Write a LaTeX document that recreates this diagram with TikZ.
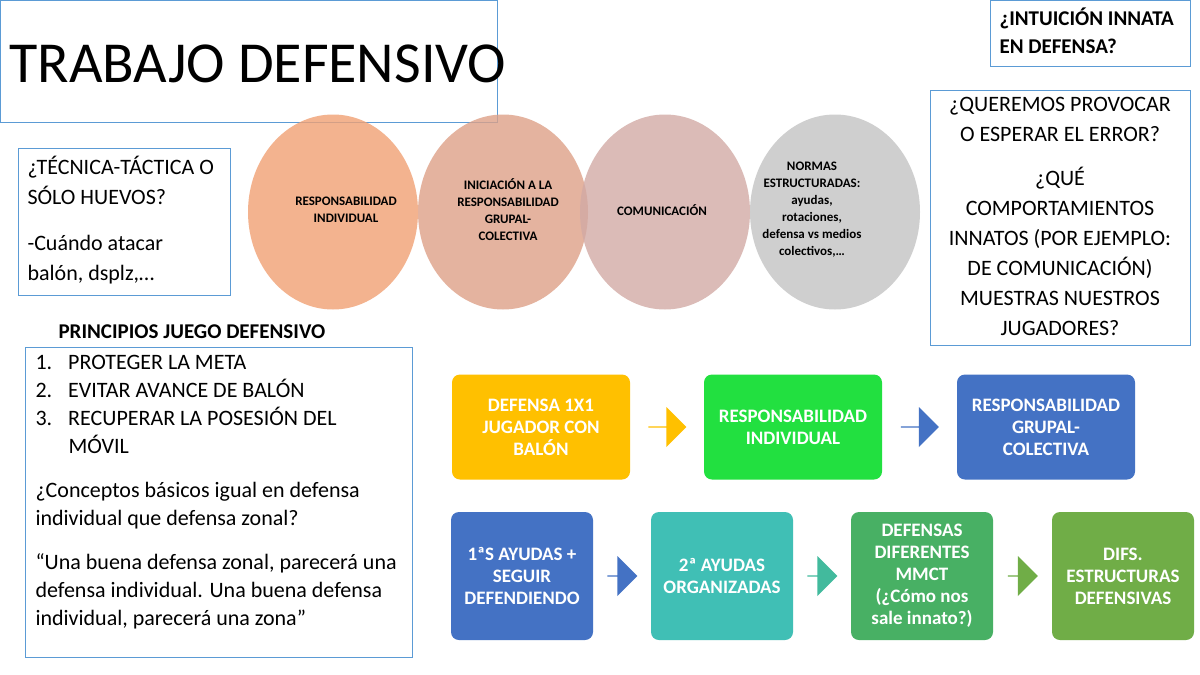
\documentclass[tikz,border=0pt]{standalone}
\usepackage{fontspec}
\setmainfont{Carlito}
\usetikzlibrary{shapes.arrows,shapes.geometric,calc}
\definecolor{bl}{RGB}{68,114,196}
\definecolor{ln}{RGB}{91,155,213}
\definecolor{yel}{RGB}{255,192,0}
\definecolor{grn}{RGB}{34,224,64}
\definecolor{teal}{RGB}{64,191,181}
\definecolor{gr2}{RGB}{72,176,100}
\definecolor{gr3}{RGB}{112,173,71}
\definecolor{c1}{RGB}{241,160,115}
\definecolor{c2}{RGB}{222,160,135}
\definecolor{c3}{RGB}{210,170,165}
\definecolor{c4}{RGB}{195,195,195}
\tikzset{
 circ/.style={ellipse,minimum width=170pt,minimum height=195pt,fill opacity=0.8,text opacity=1,inner sep=0pt},
 sq/.style={rounded corners=8pt,text=white,font=\bfseries\fontsize{19}{22}\selectfont,align=center,inner sep=0pt},
 arr/.style={single arrow,minimum width=40pt,single arrow head extend=7pt,inner sep=0pt,shape border rotate=0},
 ctext/.style={font=\bfseries\fontsize{13}{17}\selectfont,align=center}
}
\begin{document}
\begin{tikzpicture}[x=1pt,y=-1pt]
\useasboundingbox[fill=white] (0,0) rectangle (1200,675);
\draw[ln,line width=0.6pt] (0,0) rectangle (497,122);
\node[anchor=west,font=\fontsize{58}{64}\selectfont] (title) at (6,64) {TRABAJO DEFENSIVO};
\draw[ln,line width=0.6pt] (18,148) rectangle (230,295);
\node[anchor=north west,align=left,font=\fontsize{22}{30}\selectfont] (tec) at (24,153) {¿TÉCNICA-TÁCTICA O\\SÓLO HUEVOS?\\[16pt]-Cuándo atacar\\balón, dsplz,…};
\draw[ln,line width=0.6pt] (990,0) rectangle (1190,66);
\node[anchor=north west,align=left,font=\bfseries\fontsize{21}{28}\selectfont] (intu) at (996,4) {¿INTUICIÓN INNATA\\EN DEFENSA?};
\draw[ln,line width=0.6pt] (930,90) rectangle (1190,345);
\node[anchor=north,align=center,font=\fontsize{22}{30}\selectfont] (q) at (1060,94) {¿QUEREMOS PROVOCAR\\O ESPERAR EL ERROR?\\[14pt]¿QUÉ\\COMPORTAMIENTOS\\INNATOS (POR EJEMPLO:\\DE COMUNICACIÓN)\\MUESTRAS NUESTROS\\JUGADORES?};
\node[anchor=west,font=\bfseries\fontsize{21}{24}\selectfont] (pr) at (55,332) {PRINCIPIOS JUEGO DEFENSIVO};
\draw[ln,line width=0.6pt] (25,347) rectangle (412,657);
\node[anchor=north west,align=left,font=\fontsize{22}{28}\selectfont] (lst) at (32,352) {%
1.\hspace{16pt}PROTEGER LA META\\
2.\hspace{16pt}EVITAR AVANCE DE BALÓN\\
3.\hspace{16pt}RECUPERAR LA POSESIÓN DEL\\
\hspace{33pt}MÓVIL\\[16pt]
¿Conceptos básicos igual en defensa\\individual que defensa zonal?\\[16pt]
“Una buena defensa zonal, parecerá una\\defensa individual. Una buena defensa\\individual, parecerá una zona”};
\node[circ,fill=c1] (e1) at (333,212) {};
\node[circ,fill=c2] (e2) at (503,212) {};
\node[circ,fill=c3] (e3) at (665,212) {};
\node[circ,fill=c4] (e4) at (835,212) {};
\node[ctext] (t1) at (346,210) {RESPONSABILIDAD\\INDIVIDUAL};
\node[ctext] (t2) at (508,210) {INICIACIÓN A LA\\RESPONSABILIDAD\\GRUPAL-\\COLECTIVA};
\node[ctext] (t3) at (662,210) {COMUNICACIÓN};
\node[ctext] (t4) at (812,210) {NORMAS\\ESTRUCTURADAS:\\ayudas,\\rotaciones,\\defensa vs medios\\colectivos,…};
\node[sq,fill=yel,minimum width=178pt,minimum height=105pt] (b1) at (541,427) {DEFENSA 1X1\\JUGADOR CON\\BALÓN};
\node[sq,fill=grn,minimum width=178pt,minimum height=105pt] (b2) at (793,427) {RESPONSABILIDAD\\INDIVIDUAL};
\node[sq,fill=bl,minimum width=178pt,minimum height=105pt] (b3) at (1046,427) {RESPONSABILIDAD\\GRUPAL-\\COLECTIVA};
\node[arr,fill=yel,minimum height=38pt] (a1) at ($(b1.east)!0.5!(b2.west)$) {};
\node[arr,fill=bl,minimum height=38pt] (a2) at ($(b2.east)!0.5!(b3.west)$) {};
\node[sq,fill=bl,minimum width=142pt,minimum height=128pt] (c1) at (522,576) {1ªS AYUDAS +\\SEGUIR\\DEFENDIENDO};
\node[sq,fill=teal,minimum width=142pt,minimum height=128pt] (c2) at (722,576) {2ª AYUDAS\\ORGANIZADAS};
\node[sq,fill=gr2,minimum width=142pt,minimum height=128pt] (c3) at (922,576) {DEFENSAS\\DIFERENTES\\MMCT\\(¿Cómo nos\\sale innato?)};
\node[sq,fill=gr3,minimum width=142pt,minimum height=128pt] (c4) at (1123,576) {DIFS.\\ESTRUCTURAS\\DEFENSIVAS};
\node[arr,fill=bl,minimum height=30pt] (d1) at ($(c1.east)!0.5!(c2.west)$) {};
\node[arr,fill=teal!70!gr2,minimum height=30pt] (d2) at ($(c2.east)!0.5!(c3.west)$) {};
\node[arr,fill=gr3,minimum height=30pt] (d3) at ($(c3.east)!0.5!(c4.west)$) {};
\end{tikzpicture}
\end{document}
